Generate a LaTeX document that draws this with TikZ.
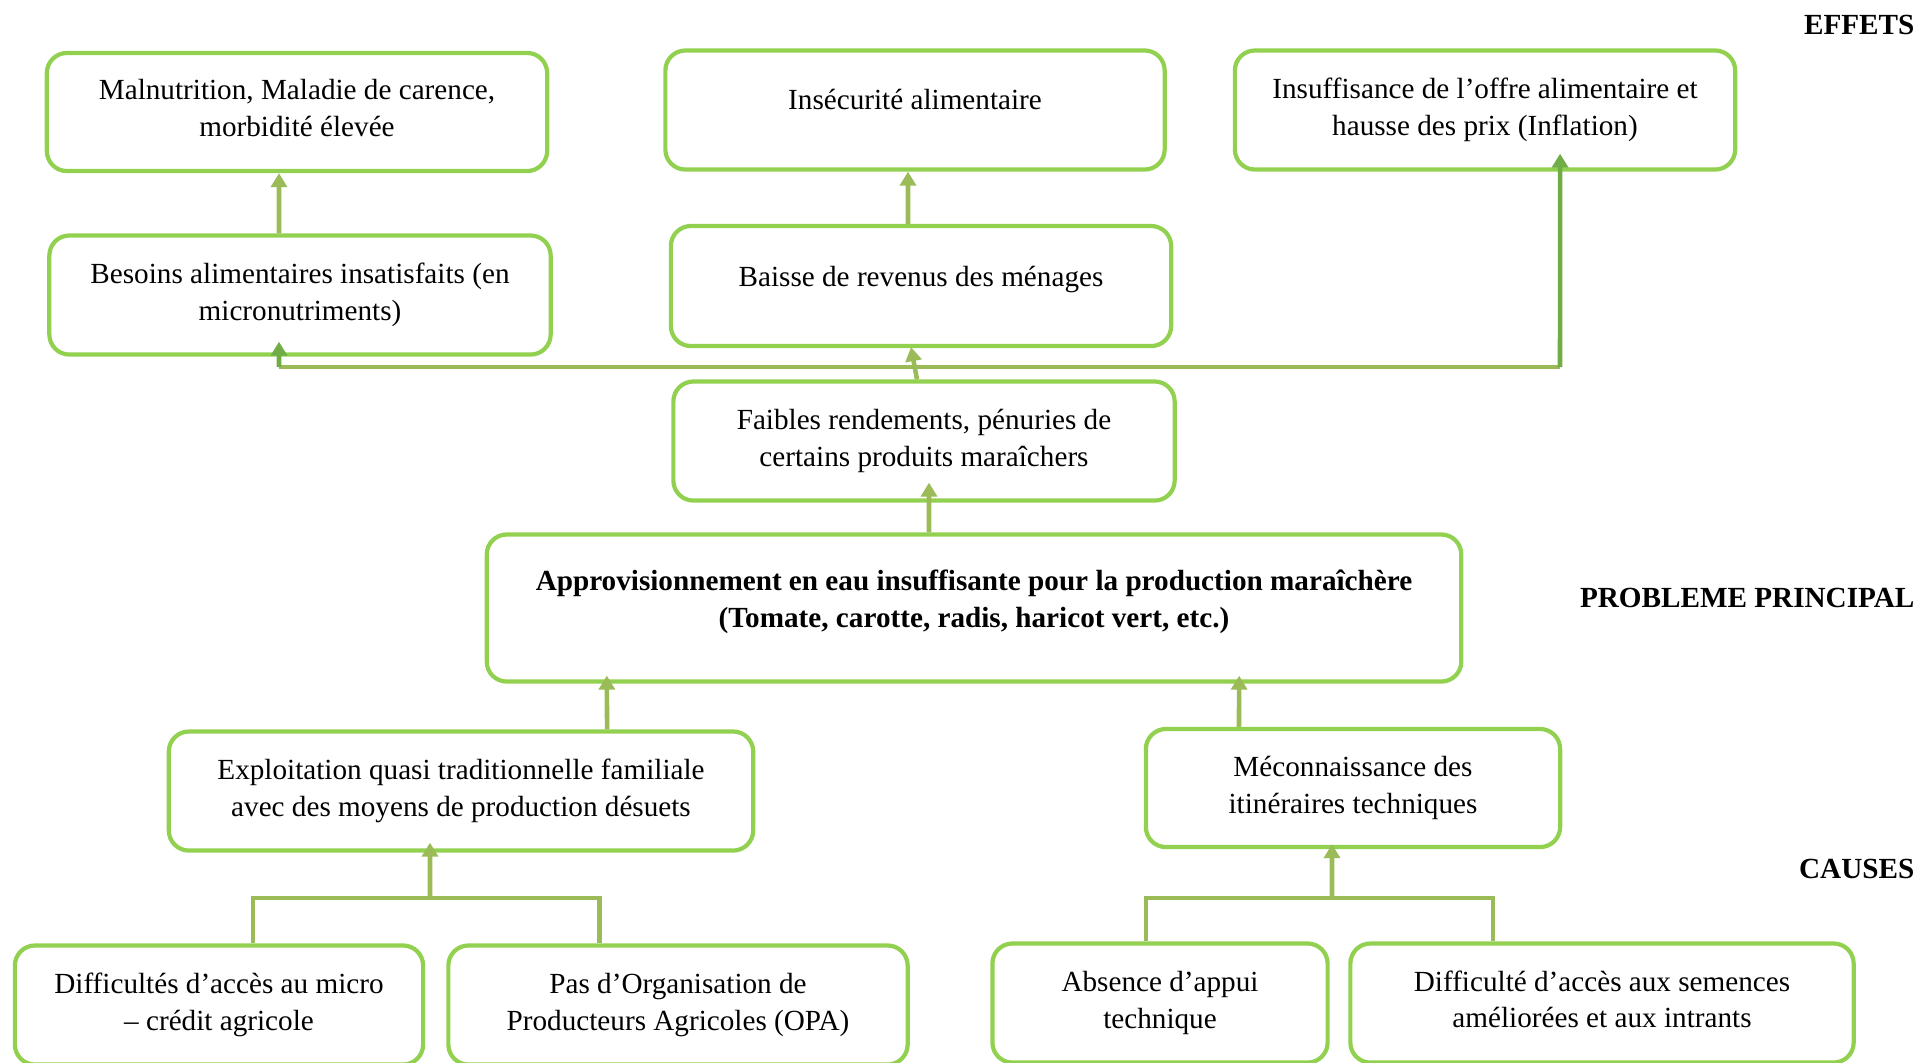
\documentclass[tikz,border=0pt]{standalone}
\usepackage{fontspec}
\setmainfont{Liberation Serif}
\usetikzlibrary{arrows.meta}
\definecolor{boxgreen}{HTML}{92D050}
\definecolor{linkgreen}{HTML}{9BBB59}
\definecolor{darkgreen}{HTML}{70AD47}
\tikzset{
  box/.style={draw=boxgreen, line width=1.2pt, rounded corners=0.2cm, align=center,
    inner sep=0pt, font=\fontsize{8.3}{10.4}\selectfont},
  link/.style={linkgreen, line width=1.3pt},
  arr/.style={link, -{Triangle[width=0.16cm,length=0.14cm]}},
  level/.style={anchor=east, inner sep=0pt, font=\fontsize{8.3}{10}\selectfont\bfseries}
}
\begin{document}
\begin{tikzpicture}[x=0.01cm, y=-0.01cm]
    \useasboundingbox (0,0) rectangle (1919,1062);
    \clip (0,0) rectangle (1919,1062);
    % levels
    \node[level] (effets) at (1915,25) {EFFETS};
    \node[level] (probleme) at (1915,598) {PROBLEME PRINCIPAL};
    \node[level] (causes) at (1915,869) {CAUSES};
    % effects
    \node[box, minimum width=5cm, minimum height=1.18cm, text depth=2.4pt] (malnut) at (297,112) {Malnutrition, Maladie de carence,\\morbidité élevée};
    \node[box, minimum width=4.99cm, minimum height=1.19cm, text height=6pt, text depth=6.1pt] (insecur) at (915,110) {Insécurité alimentaire};
    \node[box, minimum width=5cm, minimum height=1.19cm] (insuf) at (1485,110) {Insuffisance de l’offre alimentaire et\\hausse des prix (Inflation)};
    \node[box, minimum width=5.01cm, minimum height=1.19cm] (besoins) at (300,295) {Besoins alimentaires insatisfaits (en\\micronutriments)};
    \node[box, minimum width=5cm, minimum height=1.2cm, text height=6pt, text depth=5.7pt] (baisse) at (921,286) {Baisse de revenus des ménages};
    \node[box, minimum width=5.01cm, minimum height=1.19cm] (faibles) at (924,441) {Faibles rendements, pénuries de\\certains produits maraîchers};
    % main problem
    \node[box, minimum width=9.74cm, minimum height=1.47cm, text depth=5.2pt] (appro) at (974,608) {\textbf{Approvisionnement en eau insuffisante pour la production maraîchère}\\\textbf{(Tomate, carotte, radis, haricot vert, etc.)}};
    % causes
    \node[box, minimum width=5.84cm, minimum height=1.19cm] (exploit) at (461,791) {Exploitation quasi traditionnelle familiale\\avec des moyens de production désuets};
    \node[box, minimum width=4.14cm, minimum height=1.18cm] (mecon) at (1353,788) {Méconnaissance des\\itinéraires techniques};
    \node[box, minimum width=4.08cm, minimum height=1.19cm] (micro) at (219,1005) {Difficultés d’accès au micro\\– crédit agricole};
    \node[box, minimum width=4.59cm, minimum height=1.19cm] (opa) at (678,1005) {Pas d’Organisation de\\Producteurs Agricoles (OPA)};
    \node[box, minimum width=3.35cm, minimum height=1.19cm] (absence) at (1160,1003) {Absence d’appui\\technique};
    \node[box, minimum width=5.03cm, minimum height=1.19cm, text depth=2.1pt] (semences) at (1602,1003) {Difficulté d’accès aux semences\\améliorées et aux intrants};
    % effect links
    \draw[arr] ([xshift=-0.21cm]besoins.north) -- ([xshift=-0.18cm]malnut.south);
    \draw[arr] ([xshift=-0.13cm]baisse.north) -- ([xshift=-0.07cm]insecur.south);
    \coordinate (barleft) at (279,367);
    \coordinate (barright) at (1560,367);
    \draw[link] (barleft) -- (barright);
    \draw[arr] ([xshift=-0.07cm]faibles.north) -- ([xshift=-0.10cm, yshift=0.01cm]baisse.south);
    \draw[arr, darkgreen] (barleft) -- ([xshift=-0.21cm, yshift=0.15cm]besoins.south);
    \draw[arr, darkgreen] (barright) -- ([xshift=0.75cm, yshift=0.18cm]insuf.south);
    % problem links
    \draw[arr] ([xshift=-0.45cm]appro.north) -- ([xshift=0.05cm, yshift=0.2cm]faibles.south);
    \draw[arr] ([xshift=1.46cm]exploit.north) -- ([xshift=-3.67cm, yshift=0.08cm]appro.south);
    \draw[arr] ([xshift=-1.14cm]mecon.north) -- ([xshift=2.65cm, yshift=0.08cm]appro.south);
    % cause links
    \coordinate (leftjoin) at (430,898);
    \coordinate (rightjoin) at (1332,898);
    \draw[link] ([xshift=0.34cm]micro.north) |- (leftjoin) -| ([xshift=-0.785cm]opa.north);
    \draw[arr] (leftjoin) -- ([xshift=-0.31cm, yshift=0.1cm]exploit.south);
    \draw[link] ([xshift=-0.14cm]absence.north) |- (rightjoin) -| ([xshift=-1.09cm]semences.north);
    \draw[arr] (rightjoin) -- ([xshift=-0.21cm, yshift=0.05cm]mecon.south);
\end{tikzpicture}
\end{document}
